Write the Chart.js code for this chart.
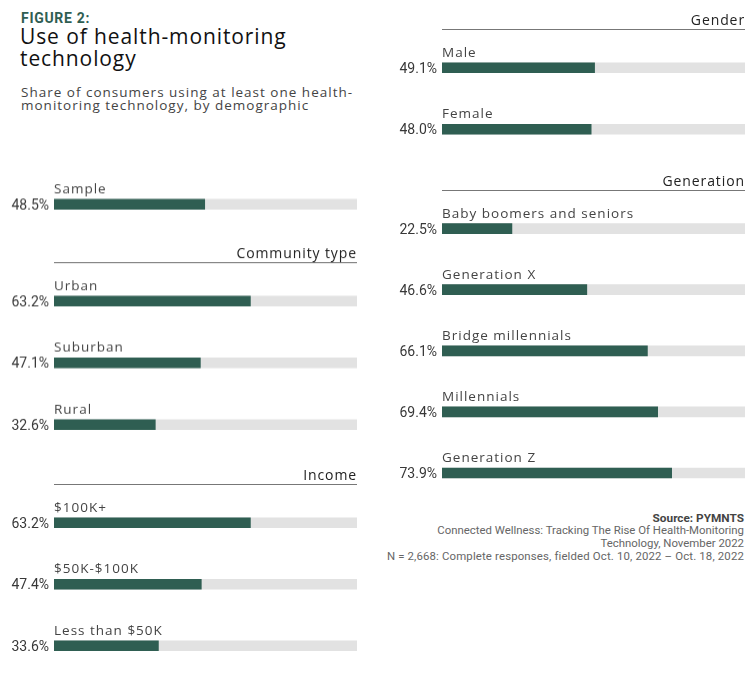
<!DOCTYPE html>
<html>
<head>
<meta charset="utf-8">
<script src="https://cdn.jsdelivr.net/npm/chart.js@4.4.1/dist/chart.umd.min.js"></script>
<style>
  body { margin: 0; width: 755px; height: 675px; background: #fff; position: relative; overflow: hidden; }
  .txt { position: absolute; white-space: nowrap; }
  .box { position: absolute; }
  #kicker { left: 21px; top: 10.5px; font: bold 14px/14px Roboto, sans-serif; letter-spacing: 0.7px; color: #2f5e52; }
  #title { left: 20px; top: 25px; font: 21px/22px "Open Sans", sans-serif; letter-spacing: 0.9px; color: #111; }
  #subtitle { left: 21px; top: 85.5px; font: 13.5px/13px "Open Sans", sans-serif; letter-spacing: 1px; color: #444; }
  #source { right: 11px; top: 511.5px; text-align: right; font: 11.4px/12.8px Roboto, sans-serif; color: #666; }
  #source b { color: #444; font-size: 11.8px; }
  #source .n { letter-spacing: 0.15px; }
</style>
</head>
<body>
<div class="txt" id="kicker">FIGURE 2:</div>
<div class="txt" id="title">Use of health-monitoring<br>technology</div>
<div class="txt" id="subtitle">Share of consumers using at least one health-<br>monitoring technology, by demographic</div>
<div class="txt" id="source"><b>Source: PYMNTS</b><br>Connected Wellness: Tracking The Rise Of Health-Monitoring<br>Technology, November 2022<br><span class="n">N = 2,668: Complete responses, fielded Oct. 10, 2022 – Oct. 18, 2022</span></div>

<div class="box" style="left:0; top:173.25px; width:357px; height:61.5px;"><canvas id="sampleChart"></canvas></div>
<div class="box" style="left:0; top:236.25px; width:357px; height:218.5px;"><canvas id="communityChart"></canvas></div>
<div class="box" style="left:0; top:457.75px; width:357px; height:218.5px;"><canvas id="incomeChart"></canvas></div>
<div class="box" style="left:390px; top:3.25px; width:355px; height:157px;"><canvas id="genderChart"></canvas></div>
<div class="box" style="left:390px; top:163.9px; width:355px; height:339.6px;"><canvas id="generationChart"></canvas></div>

<script>
// data
const sampleLabels = ['Sample'];
const sampleValues = [48.5];

const communityLabels = ['Urban', 'Suburban', 'Rural'];
const communityValues = [63.2, 47.1, 32.6];

const incomeLabels = ['$100K+', '$50K-$100K', 'Less than $50K'];
const incomeValues = [63.2, 47.4, 33.6];

const genderLabels = ['Male', 'Female'];
const genderValues = [49.1, 48.0];

const generationLabels = ['Baby boomers and seniors', 'Generation X', 'Bridge millennials', 'Millennials', 'Generation Z'];
const generationValues = [22.5, 46.6, 66.1, 69.4, 73.9];

const scaleMax = 97.5; // the grey track ends here in the original
const barGreen = '#2f5e52';
const trackGrey = '#e2e2e2';

// draws the name above each bar, the % to its left and the group header + rule
const rowLabels = {
    id: 'rowLabels',
    afterDatasetsDraw(chart, args, opts) {
        const ctx = chart.ctx;
        const area = chart.chartArea;
        const meta = chart.getDatasetMeta(0);
        const labels = chart.data.labels;
        const values = chart.data.datasets[0].data;
        ctx.save();
        ctx.textBaseline = 'alphabetic';
        meta.data.forEach((bar, i) => {
            ctx.font = '13.5px "Open Sans"';
            ctx.letterSpacing = '1px';
            ctx.fillStyle = '#444';
            ctx.textAlign = 'left';
            ctx.fillText(labels[i], area.left, bar.y - 11);

            ctx.font = '14px Roboto';
            ctx.letterSpacing = '0px';
            ctx.fillStyle = '#383838';
            ctx.textAlign = 'right';
            ctx.fillText(values[i].toFixed(1) + '%', area.left - 5, bar.y + 5);
        });
        if (opts.header) {
            const ruleY = Math.round(area.top - 8.5) + 0.5;
            ctx.strokeStyle = '#777';
            ctx.lineWidth = 1;
            ctx.beginPath();
            ctx.moveTo(area.left, ruleY);
            ctx.lineTo(area.right, ruleY);
            ctx.stroke();

            ctx.font = '14px "Open Sans"';
            ctx.letterSpacing = '0.9px';
            ctx.fillStyle = '#222';
            ctx.textAlign = 'right';
            ctx.fillText(opts.header, area.right, ruleY - 4.5);
        }
        ctx.restore();
    }
};

function makeGroup(canvasId, header, labels, values, padLeft) {
    const ctx = document.getElementById(canvasId).getContext('2d');
    return new Chart(ctx, {
        type: 'bar',
        data: {
            labels: labels,
            datasets: [
                {
                    data: values,
                    backgroundColor: barGreen,
                    barThickness: 10,
                    grouped: false
                },
                {
                    data: labels.map(() => scaleMax),
                    backgroundColor: trackGrey,
                    barThickness: 10,
                    grouped: false
                }
            ]
        },
        options: {
            indexAxis: 'y',
            responsive: true,
            maintainAspectRatio: false,
            animation: false,
            layout: { padding: { left: padLeft, right: 0, top: header ? 34 : 0, bottom: 0 } },
            scales: {
                x: { display: false, min: 0, max: scaleMax },
                y: { display: false }
            },
            plugins: {
                legend: { display: false },
                tooltip: { enabled: false },
                rowLabels: { header: header }
            }
        },
        plugins: [rowLabels]
    });
}

makeGroup('sampleChart', null, sampleLabels, sampleValues, 54);
makeGroup('communityChart', 'Community type', communityLabels, communityValues, 54);
makeGroup('incomeChart', 'Income', incomeLabels, incomeValues, 54);
makeGroup('genderChart', 'Gender', genderLabels, genderValues, 52);
makeGroup('generationChart', 'Generation', generationLabels, generationValues, 52);
</script>
</body>
</html>
